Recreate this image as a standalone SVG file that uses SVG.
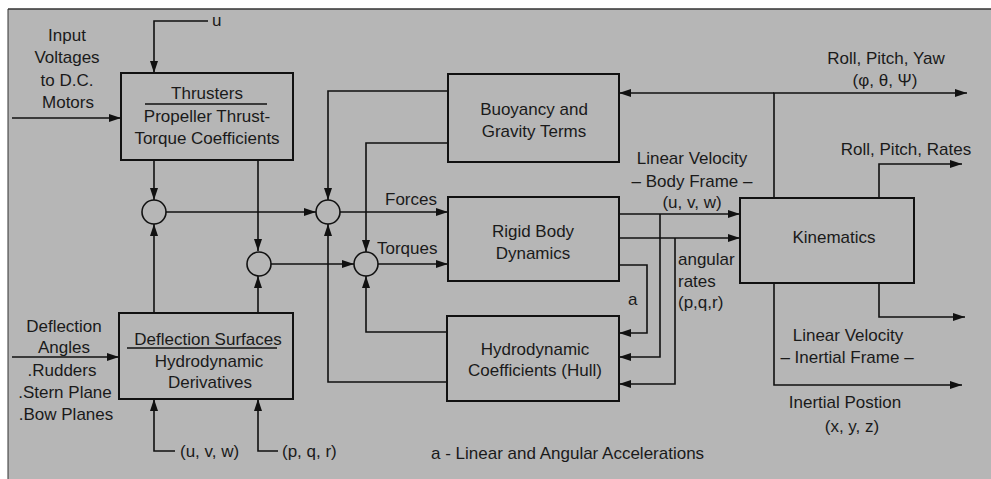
<svg xmlns="http://www.w3.org/2000/svg" width="991" height="479" viewBox="0 0 991 479">
<defs>
<marker id="arr" markerUnits="userSpaceOnUse" markerWidth="13" markerHeight="9" refX="12" refY="4" orient="auto-start-reverse">
<path d="M0,0 L12,4 L0,8 z" fill="#111"/>
</marker>
<style>
.bg{fill:#b6b6b6;}
.box{fill:none;stroke:#111;stroke-width:2;}
.sum{fill:none;stroke:#111;stroke-width:1.6;}
.ln{fill:none;stroke:#111;stroke-width:1.6;marker-end:url(#arr);}
.pl{fill:none;stroke:#111;stroke-width:1.6;}
.ul{stroke:#111;stroke-width:1.5;}
text{font-family:"Liberation Sans",Arial,sans-serif;font-size:17px;fill:#1a1a1a;}
.c{text-anchor:middle;}
</style>
</defs>
<rect class="bg" x="8" y="9" width="983" height="470"/>
<line x1="8" y1="9" x2="991" y2="9" stroke="#333" stroke-width="1.5"/>
<line x1="8" y1="9" x2="8" y2="479" stroke="#333" stroke-width="1"/>

<g id="connectors">
<path class="ln" d="M12,118 H121"/>
<path class="ln" d="M208,21 H154 V73"/>
<path class="ln" d="M154,160 V200"/>
<path class="ln" d="M258,160 V251"/>
<path class="ln" d="M154,313 V224"/>
<path class="ln" d="M258,313 V276"/>
<path class="ln" d="M12,357 H119"/>
<path class="ln" d="M175,451 H154 V399"/>
<path class="ln" d="M278,451 H258 V399"/>
<path class="ln" d="M166,212 H316"/>
<path class="ln" d="M271,264 H354"/>
<path class="ln" d="M448,91 H328 V200"/>
<path class="ln" d="M448,143 H366 V252"/>
<path class="ln" d="M447,382 H328 V224"/>
<path class="ln" d="M447,332 H366 V276"/>
<path class="ln" d="M340,212 H448"/>
<path class="ln" d="M378,264 H448"/>
<path class="ln" d="M619,214 H740"/>
<path class="ln" d="M619,238 H740"/>
<path class="ln" d="M660,214 V357 H619"/>
<path class="ln" d="M675,238 V384 H619"/>
<path class="ln" d="M619,265 H647 V333 H619"/>
<path class="ln" d="M774,93 H619"/>
<path class="ln" d="M774,198 V93 H967"/>
<path class="ln" d="M879,198 V164 H962"/>
<path class="ln" d="M879,283 V317 H965"/>
<path class="ln" d="M774,283 V385 H962"/>
</g>

<g id="sum1"><circle class="sum" cx="154" cy="212" r="12"/></g>
<g id="sum2"><circle class="sum" cx="259" cy="264" r="12"/></g>
<g id="sum3"><circle class="sum" cx="328" cy="212" r="12"/></g>
<g id="sum4"><circle class="sum" cx="366" cy="264" r="12"/></g>

<g id="thrusters">
<rect class="box" x="121" y="73" width="172" height="87"/>
<text class="c" x="207" y="99">Thrusters</text>
<line class="ul" x1="145" y1="104" x2="267" y2="104"/>
<text class="c" x="207" y="122">Propeller Thrust-</text>
<text class="c" x="207" y="144">Torque Coefficients</text>
</g>

<g id="deflection">
<rect class="box" x="119" y="313" width="174" height="86"/>
<text class="c" x="208" y="345">Deflection Surfaces</text>
<line class="ul" x1="127" y1="348" x2="277" y2="348"/>
<text class="c" x="209" y="367">Hydrodynamic</text>
<text class="c" x="210" y="388">Derivatives</text>
</g>

<g id="buoyancy">
<rect class="box" x="448" y="74" width="171" height="88"/>
<text class="c" x="534" y="115">Buoyancy and</text>
<text class="c" x="534" y="137">Gravity Terms</text>
</g>

<g id="rigidbody">
<rect class="box" x="448" y="197" width="171" height="84"/>
<text class="c" x="533" y="237">Rigid Body</text>
<text class="c" x="533" y="259">Dynamics</text>
</g>

<g id="hydro">
<rect class="box" x="447" y="316" width="172" height="85"/>
<text class="c" x="535" y="355">Hydrodynamic</text>
<text class="c" x="535" y="376">Coefficients (Hull)</text>
</g>

<g id="kinematics">
<rect class="box" x="740" y="198" width="174" height="85"/>
<text class="c" x="834" y="243">Kinematics</text>
</g>

<g id="labels">
<text class="c" x="67" y="41">Input</text>
<text class="c" x="67" y="63">Voltages</text>
<text class="c" x="67" y="86">to D.C.</text>
<text class="c" x="68" y="108">Motors</text>
<text x="212" y="26">u</text>
<text class="c" x="64" y="332">Deflection</text>
<text class="c" x="64" y="353">Angles</text>
<text class="c" x="62" y="376">.Rudders</text>
<text class="c" x="65" y="398">.Stern Plane</text>
<text class="c" x="66" y="420">.Bow Planes</text>
<text x="180" y="457">(u, v, w)</text>
<text x="282" y="457">(p, q, r)</text>
<text x="385" y="205">Forces</text>
<text x="377" y="254">Torques</text>
<text class="c" x="692" y="164">Linear Velocity</text>
<text class="c" x="692" y="187">– Body Frame –</text>
<text class="c" x="692" y="208">(u, v, w)</text>
<text x="678" y="265">angular</text>
<text x="678" y="287">rates</text>
<text x="678" y="308">(p,q,r)</text>
<text x="628" y="305">a</text>
<text class="c" x="886" y="64">Roll, Pitch, Yaw</text>
<text class="c" x="885" y="86">(φ, θ, Ψ)</text>
<text class="c" x="906" y="155">Roll, Pitch, Rates</text>
<text class="c" x="848" y="341">Linear Velocity</text>
<text class="c" x="847" y="363">– Inertial Frame –</text>
<text class="c" x="845" y="408">Inertial Postion</text>
<text class="c" x="852" y="432">(x, y, z)</text>
<text x="431" y="459">a - Linear and Angular Accelerations</text>
</g>
</svg>
